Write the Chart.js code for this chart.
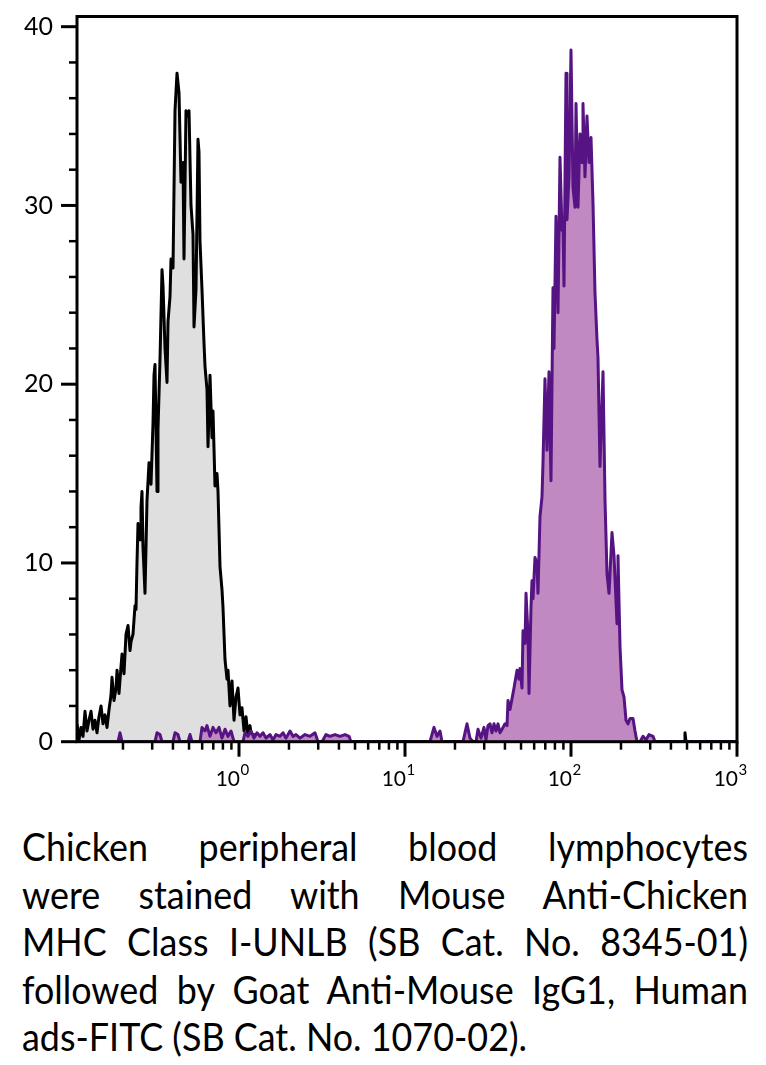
<!DOCTYPE html>
<html>
<head>
<meta charset="utf-8">
<script src="https://cdn.jsdelivr.net/npm/chart.js@4.4.1/dist/chart.umd.min.js"></script>
<style>
  html, body { margin: 0; padding: 0; background: #fff; }
  #wrap { position: absolute; left: 0; top: 0; width: 766px; height: 800px; }
  #caption {
    position: absolute; left: 22px; top: 823px; width: 726px;
    font-family: Lato, sans-serif; font-size: 39px; line-height: 47.5px;
    color: #000; transform-origin: 0 0; white-space: nowrap;
  }
  #caption .j { text-align: justify; text-align-last: justify; white-space: normal; }
</style>
</head>
<body>
<div id="wrap"><canvas id="myChart" width="766" height="800"></canvas></div>
<div id="caption">
  <div class="j">Chicken peripheral blood lymphocytes</div>
  <div class="j">were stained with Mouse Anti-Chicken</div>
  <div class="j">MHC Class I-UNLB (SB Cat. No. 8345-01)</div>
  <div class="j">followed by Goat Anti-Mouse IgG1, Human</div>
  <div>ads-FITC (SB Cat. No. 1070-02).</div>
</div>
<script>
// control (unstained) histogram - black outline, grey fill
const ctrlX = [0.1057, 0.1087, 0.1117, 0.1149, 0.1181, 0.1214, 0.1248, 0.1284, 0.1320, 0.1357,
  0.1395, 0.1434, 0.1475, 0.1516, 0.1559, 0.1603, 0.1648, 0.1694, 0.1718, 0.1766,
  0.1816, 0.1842, 0.1893, 0.1946, 0.1974, 0.2029, 0.2086, 0.2145, 0.2205, 0.2236,
  0.2298, 0.2363, 0.2396, 0.2429, 0.2464, 0.2533, 0.2568, 0.2604, 0.2640, 0.2715,
  0.2791, 0.2870, 0.2951, 0.3033, 0.3076, 0.3119, 0.3207, 0.3251, 0.3343, 0.3437,
  0.3485, 0.3583, 0.3684, 0.3735, 0.3840, 0.3894, 0.4004, 0.4116, 0.4232, 0.4351,
  0.4473, 0.4599, 0.4663, 0.4794, 0.4929, 0.4998, 0.5138, 0.5283, 0.5357, 0.5508,
  0.5662, 0.5741, 0.5822, 0.5985, 0.6154, 0.6240, 0.6415, 0.6505, 0.6688, 0.6876,
  0.6972, 0.7168, 0.7370, 0.7473, 0.7683, 0.7899, 0.8010, 0.8235, 0.8466, 0.8585,
  0.8827, 0.9075, 0.9330, 0.9592, 0.9862, 1.014, 1.042, 1.072, 1.102, 1.133,
  1.165, 1.198, 1.231, 1.266, 1.338, 1.376, 1.495, 1.581, 1.893, 1.974,
  480, 486, 493, 1000];
const ctrlY = [1.0, 0.1, 0.8, 0.3, 1.7, 0.6, 1.2, 1.7, 0.7, 1.2,
  0.5, 1.4, 2.0, 1.0, 1.5, 0.8, 1.8, 2.6, 3.6, 2.3,
  3.0, 4.0, 2.7, 4.2, 4.9, 3.8, 6.0, 6.5, 5.1, 5.6,
  6.0, 7.6, 7.4, 10.0, 12.2, 11.3, 13.1, 14.0, 10.9, 8.3,
  13.5, 15.6, 14.4, 17.8, 20.5, 21.1, 14.0, 17.5, 21.4, 26.4,
  25.5, 22.0, 20.1, 23.5, 24.9, 27.0, 26.5, 35.3, 37.4, 36.3,
  31.3, 32.4, 27.0, 35.3, 35.0, 35.3, 30.0, 28.4, 23.2, 25.3,
  33.7, 33.0, 28.0, 25.3, 22.3, 21.0, 19.7, 16.5, 20.5, 17.0,
  18.5, 14.3, 15.0, 14.0, 9.8, 8.5, 7.5, 4.6, 3.5, 4.0,
  2.0, 3.4, 1.2, 2.5, 3.0, 1.5, 1.9, 0.6, 1.4, 0.3,
  0.9, 0.1, 0.4, 0, 0.3, 0, 0.3, 0, 0.2, 0,
  0, 0.5, 0, 0];

// stained histogram - purple
const stainX = [0.1057, 0.1867, 0.1919, 0.1974, 0.3119, 0.3207, 0.3343, 0.3437, 0.4004, 0.4116,
  0.4291, 0.4412, 0.4929, 0.5068, 0.5210, 0.5822, 0.5985, 0.6240, 0.6415, 0.6688,
  0.6972, 0.7268, 0.7577, 0.7899, 0.8235, 0.8585, 0.8950, 0.9330, 1.057, 1.087,
  1.133, 1.181, 1.231, 1.284, 1.338, 1.395, 1.454, 1.537, 1.603, 1.671,
  1.766, 1.842, 1.919, 2.029, 2.115, 2.205, 2.331, 2.498, 2.677, 2.870,
  2.991, 3.162, 3.343, 3.534, 3.787, 4.058, 4.351, 4.599, 4.728, 14.14,
  14.95, 15.59, 16.25, 16.71, 22.36, 23.63, 24.63, 25.68, 26.78, 27.53,
  28.70, 29.91, 30.76, 31.62, 32.51, 33.42, 34.36, 35.33, 36.33, 37.35,
  38.95, 40.04, 41.17, 41.74, 42.91, 44.12, 45.36, 47.29, 48.62, 49.30,
  50.69, 51.40, 52.84, 53.58, 55.08, 55.85, 57.41, 58.21, 59.02, 60.68,
  62.39, 63.26, 65.04, 66.87, 67.80, 69.71, 71.67, 73.68, 75.76, 77.89,
  78.98, 81.21, 83.49, 85.84, 88.26, 89.50, 90.74, 93.30, 94.60, 97.27,
  100, 102.8, 105.7, 107.2, 110.2, 113.3, 116.5, 118.1, 121.4, 124.8,
  128.4, 132.0, 135.7, 139.5, 143.4, 145.4, 149.5, 155.9, 160.3, 164.8,
  169.4, 176.6, 181.6, 189.3, 191.9, 197.4, 202.9, 208.6, 214.5, 220.5,
  226.7, 236.3, 243.0, 249.8, 260.4, 271.5, 283.0, 295.1, 311.9, 320.7,
  1000];
const stainY = [0, 0, 0.5, 0, 0, 0.5, 0.4, 0, 0, 0.5,
  0.4, 0, 0, 0.4, 0, 0, 0.8, 0.6, 0.9, 0.3,
  0.8, 0.5, 0.8, 0.2, 0.7, 0.3, 0.6, 0, 0, 0.5,
  0.3, 0.6, 0.2, 0.5, 0.3, 0.5, 0.2, 0.4, 0.1, 0.4,
  0.3, 0.5, 0.2, 0.6, 0.3, 0.4, 0.2, 0.4, 0.3, 0.5,
  0, 0, 0.4, 0.3, 0.4, 0.3, 0.4, 0.3, 0, 0,
  0.8, 0.3, 0.6, 0, 0, 1.0, 0.2, 0, 0, 0.7,
  0.2, 0.8, 0.1, 0.9, 1.0, 0.5, 1.0, 0.6, 1.0, 0.5,
  0.8, 1.0, 0.9, 2.3, 1.8, 2.4, 3.0, 4.0, 3.5, 4.1,
  3.0, 6.2, 5.5, 8.3, 6.0, 2.7, 7.5, 9.0, 8.0, 10.3,
  10.0, 8.3, 12.6, 13.7, 15.6, 20.3, 16.3, 20.7, 14.6, 25.4,
  22.0, 29.4, 24.0, 32.7, 28.6, 29.0, 25.5, 37.4, 29.2, 31.6,
  38.7, 31.0, 29.9, 35.7, 29.9, 34.0, 32.4, 35.7, 31.6, 35.0,
  32.4, 33.8, 30.1, 25.1, 22.5, 21.5, 15.4, 20.7, 13.5, 9.4,
  8.3, 11.7, 10.4, 6.6, 10.4, 5.3, 2.9, 2.5, 1.2, 1.0,
  1.3, 1.3, 0.6, 0, 0, 0.3, 0.1, 0.4, 0.3, 0,
  0];

// axis ticks
const yTicks = [0, 2, 4, 6, 8, 10, 12, 14, 16, 18, 20, 22, 24, 26, 28, 30, 32, 34, 36, 38, 40];
const xTicks = [0.2, 0.3, 0.4, 0.5, 0.6, 0.7, 0.8, 0.9,
  1, 2, 3, 4, 5, 6, 7, 8, 9,
  10, 20, 30, 40, 50, 60, 70, 80, 90,
  100, 200, 300, 400, 500, 600, 700, 800, 900, 1000];
const xMajor = [1, 10, 100, 1000];
const xExp = ['0', '1', '2', '3'];

function points(xs, ys) {
  return xs.map((x, i) => ({x: x, y: ys[i]}));
}

// frame, tick marks and the 10^n labels drawn over the data
const axisFrame = {
  id: 'axisFrame',
  afterDatasetsDraw(chart) {
    const ctx = chart.ctx;
    const a = chart.chartArea;
    const x = chart.scales.x;
    const y = chart.scales.y;
    ctx.save();
    ctx.strokeStyle = '#000';
    ctx.lineWidth = 3;
    ctx.strokeRect(a.left, a.top, a.right - a.left, a.bottom - a.top);

    yTicks.forEach(v => {
      const py = y.getPixelForValue(v);
      const len = v % 10 === 0 ? 16 : 8;
      ctx.lineWidth = v % 10 === 0 ? 3 : 2.5;
      ctx.beginPath();
      ctx.moveTo(a.left - len, py);
      ctx.lineTo(a.left, py);
      ctx.stroke();
    });
    xTicks.forEach(v => {
      const px = x.getPixelForValue(v);
      const major = xMajor.indexOf(v) >= 0;
      ctx.lineWidth = major ? 3 : 2.5;
      ctx.beginPath();
      ctx.moveTo(px, a.bottom);
      ctx.lineTo(px, a.bottom + (major ? 15 : 8));
      ctx.stroke();
    });

    ctx.fillStyle = '#000';
    ctx.textBaseline = 'alphabetic';
    xMajor.forEach((v, i) => {
      const px = x.getPixelForValue(v);
      ctx.font = '21px Lato';
      ctx.textAlign = 'right';
      ctx.fillText('10', px + 1, a.bottom + 44);
      ctx.font = '15px Lato';
      ctx.textAlign = 'left';
      ctx.fillText(xExp[i], px + 1.5, a.bottom + 33);
    });
    ctx.restore();
  }
};

const myChart = document.getElementById('myChart');
const histChart = new Chart(myChart, {
  type: 'line',
  data: {
    datasets: [{
      label: 'Stained',
      data: points(stainX, stainY),
      borderColor: '#561383',
      backgroundColor: '#c089c1',
      borderWidth: 3,
      fill: 'origin',
      pointRadius: 0,
      borderJoinStyle: 'round'
    }, {
      label: 'Control',
      data: points(ctrlX, ctrlY),
      borderColor: '#000000',
      backgroundColor: '#dfdfdf',
      borderWidth: 3,
      fill: 'origin',
      pointRadius: 0,
      borderJoinStyle: 'round'
    }]
  },
  options: {
    responsive: false,
    animation: false,
    layout: { padding: { left: 0, top: 16.5, right: 29, bottom: 0 } },
    plugins: { legend: { display: false }, tooltip: { enabled: false } },
    scales: {
      x: {
        type: 'logarithmic',
        min: 0.1057,
        max: 1000,
        grid: { display: false },
        border: { display: false },
        ticks: { display: false },
        afterBuildTicks: s => { s.ticks = xTicks.map(v => ({value: v})); },
        afterFit: s => { s.height = 58.3; }
      },
      y: {
        min: 0,
        max: 40.57,
        grid: { display: false, drawTicks: true, tickLength: 22 },
        border: { display: false },
        ticks: {
          padding: 2,
          color: '#000',
          font: { family: 'Lato', size: 25, lineHeight: 1 },
          callback: v => (v % 10 === 0 ? String(v) : '')
        },
        afterBuildTicks: s => { s.ticks = yTicks.map(v => ({value: v})); },
        afterFit: s => { s.width = 77; }
      }
    }
  },
  plugins: [axisFrame]
});

// squeeze the caption so its last line is as wide as in the original
const caption = document.getElementById('caption');
const probe = document.createElement('canvas').getContext('2d');
probe.font = '39px Lato';
const lastWidth = probe.measureText('ads-FITC (SB Cat. No. 1070-02).').width;
const squeeze = 505 / lastWidth;
caption.style.width = (726 / squeeze) + 'px';
caption.style.transform = 'scaleX(' + squeeze + ')';
</script>
</body>
</html>
